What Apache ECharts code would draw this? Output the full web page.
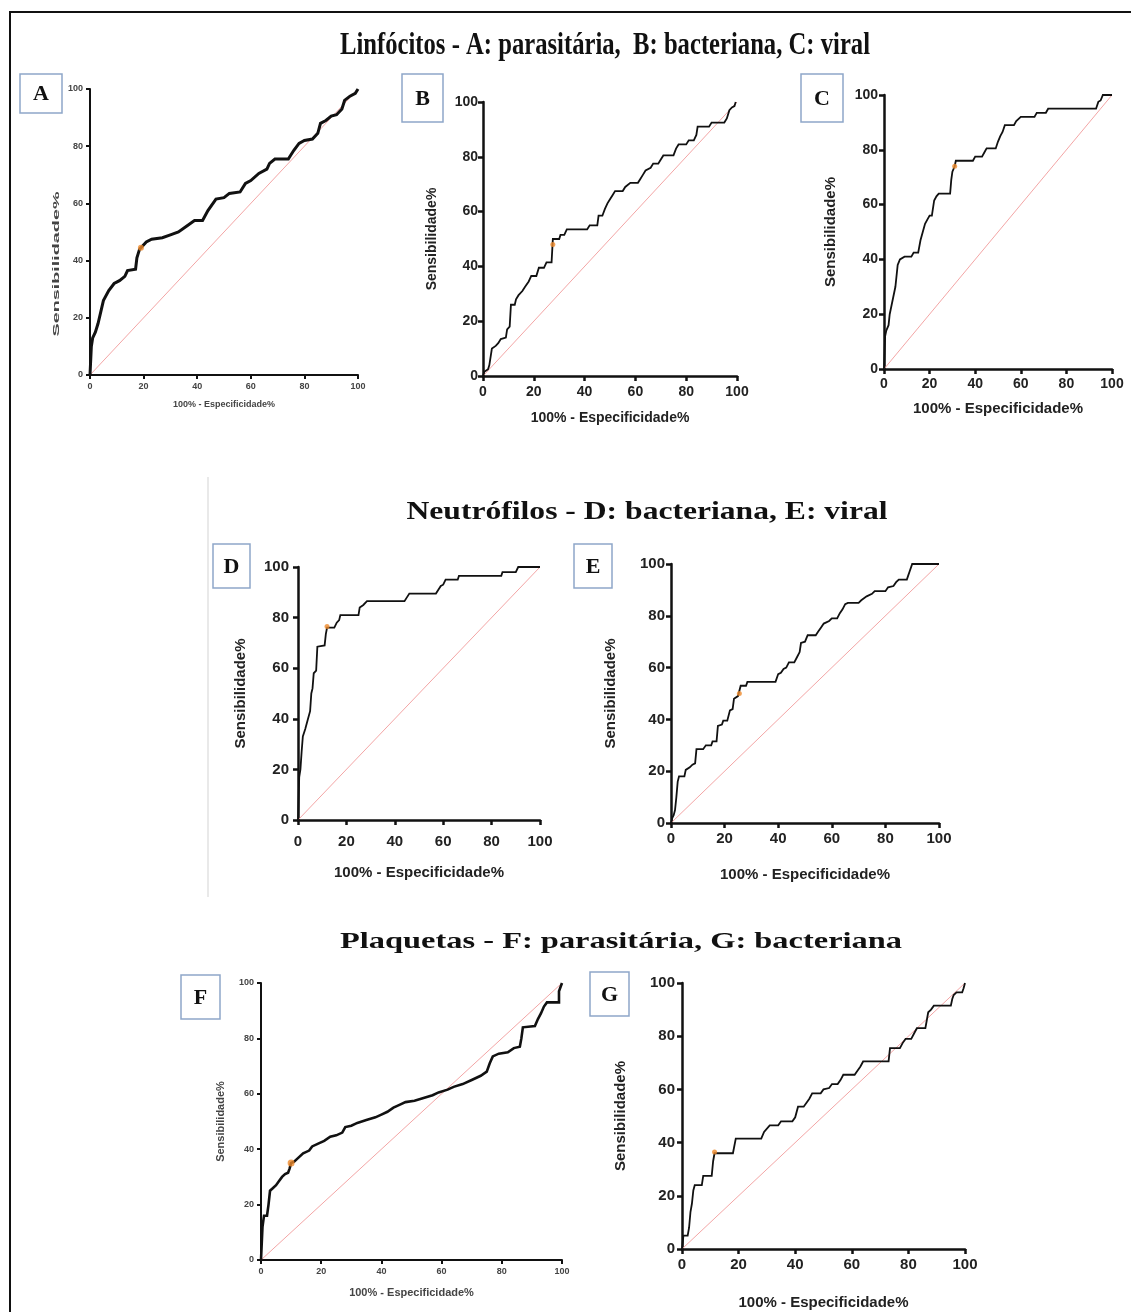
<!DOCTYPE html>
<html><head><meta charset="utf-8">
<script src="https://cdn.jsdelivr.net/npm/echarts@6/dist/echarts.min.js"></script>
<style>html,body{margin:0;padding:0;background:#fff}#chart{width:1131px;height:1312px}</style>
</head><body><div id="chart"></div>
<script>
// ---------- DATA ----------
const tickValues = [0, 20, 40, 60, 80, 100];
const xAxisName = '100% - Especificidade%';
const yAxisName = 'Sensibilidade%';
const chanceLine = [[0, 0], [100, 100]];
const titleLinfocitos = 'Linfócitos - A: parasitária,  B: bacteriana, C: viral';
const titleNeutrofilos = 'Neutrófilos - D: bacteriana, E: viral';
const titlePlaquetas = 'Plaquetas - F: parasitária, G: bacteriana';
const panelLetters = ['A', 'B', 'C', 'D', 'E', 'F', 'G'];

const rocA = [[0,0],[0.5,10],[1,13],[2,15],[3,18],[4,22],[5,26],[7,29.5],[9,32],[11,33],[13,34.5],[14,36.5],[17,37],[17.5,41],[18,41],[18.5,44],[21,46.5],[23,47.5],[27,48],[30,49],[33,50],[36,52],[39,54],[42,54],[44,57.5],[47,61.5],[50,62],[52,63.5],[56,64],[58,67],[60,68],[63,70.5],[66,72],[67,74],[69,75.5],[74,75.5],[76,78.5],[78,81],[80,82],[83,82.5],[85,84.5],[86,88],[88,89],[90,90.5],[92,91],[94,93],[95,96],[97,97.5],[99,98.5],[100,100]];
const cutA = [19, 44.5];

const rocB = [[0,0],[0.5,1.5],[2,2.5],[2.5,4],[3,4],[3.5,10],[5,11],[6,12],[7,13.5],[9,14],[9.5,17],[10.5,18],[11,26],[12.5,26],[13,28],[14,29.5],[15.5,31],[16.5,32.5],[18,34.5],[19,36.5],[21,36.5],[22,39.5],[24,39.5],[25,41.5],[27,41.5],[27.5,50],[30,50],[30.5,51.5],[32,51.5],[33,53.5],[41,53.5],[42,55],[45,55],[45.5,58.5],[47,58.5],[48,61],[49,63],[50,64.5],[51,66],[52,67.5],[55,67.5],[56,69],[58,70.5],[61,70.5],[62,72],[63,73.5],[64,75],[66,76],[67,77.5],[69,77.5],[70,79],[71,80.5],[75,80.5],[76,83],[77,84.5],[80,84.5],[81,86],[83,86],[84,88],[84.5,91],[89,91],[90,92.5],[95,92.5],[96,94],[97,97],[98,98],[99,98.5],[99.5,100]];
const cutB = [27.5, 48];

const rocC = [[0,0],[0.5,12],[1,14],[2,16],[2.5,20],[3,22],[4,26],[5,30],[6,38],[7,40],[9,41],[12,41],[13,42.5],[15,42.5],[16,47],[17,50],[18,53],[19,54.5],[20,56],[21,56],[22,61.5],[23,63],[24,64],[29,64],[29.5,69],[30,72],[31,74],[31.5,76],[39,76],[40,77.5],[43,77.5],[44,79],[45,80.5],[49,80.5],[50,83],[51,85],[52,86.5],[53,89],[57,89],[58,90.5],[60,92],[66,92],[67,93.5],[71,93.5],[72,95],[93,95],[94,97.5],[95,98],[96,100],[100,100]];
const cutC = [31, 74];

const rocD = [[0,0],[0.3,10],[0.5,17],[1,20],[1.5,27],[2,33],[3,36],[4,39.5],[5,43],[5.5,50],[6,52],[6.5,58],[7.5,59],[8,68.5],[11,69],[11.5,73.5],[12,76],[13,76],[15,76],[16,78],[17,79],[17.5,81],[25,81],[25.5,84],[27,85],[28.5,86.5],[44,86.5],[45,88],[46,89.5],[57,89.5],[58,91],[59,92.5],[60,93],[61,95],[66,95],[66.5,96.5],[84,96.5],[84.5,98],[90,98],[91,100],[100,100]];
const cutD = [12, 76.5];

const rocE = [[0,0],[0.5,2],[1,3],[1.5,5],[2,10],[2.5,16],[3,18],[5,18],[5.5,20.5],[7,21.5],[8,22.5],[9,23],[9.5,28.5],[12,28.5],[13,30],[15,30],[15.5,31.5],[17,31.5],[17.5,37.5],[19,38],[19.5,39.5],[21,39.5],[22,43.5],[23,44],[23.5,48],[25,49],[26,53],[28,53],[28.5,54.5],[39,54.5],[40,57.5],[41,58],[42,59.5],[43,60],[44,62],[46,62],[47,64],[48,66],[48.5,69.5],[50,70],[51,72.5],[54,72.5],[55,74],[56,75.5],[57,77],[59,78],[60,79],[62,79],[63,81],[64,82.5],[65,84.5],[66,85],[70,85],[71,86],[73,87.5],[75,88.5],[76,89.5],[80,89.5],[81,91],[83,91.5],[84,93],[85,94],[88,94],[88.5,95.5],[89,97],[90,100],[100,100]];
const cutE = [25.5, 50];

const rocF = [[0,0],[0.5,12],[1,16],[2,16],[2.5,20],[3,25],[4,26],[5,27],[6,28.5],[7,30],[8,31],[9,31.5],[9.5,33],[10,35],[11,35.5],[12,36.5],[14,38.5],[16,39.5],[17,41],[19,42],[21,43],[23,44.5],[25,45],[27,46],[28,48],[30,48.5],[32,49.5],[35,50.5],[38,51.5],[40,52.5],[42,53.5],[44,55],[46,56],[48,57],[51,57.5],[54,58.5],[57,59.5],[59,60.5],[62,61.5],[64,62.5],[67,63.5],[70,65],[73,66.5],[75,68],[76,71],[77,73.5],[79,74.5],[82,75],[84,76.5],[86,77],[86.5,80],[87,84],[91,84.5],[92,87],[93,89],[94,91.5],[95,93],[99,93],[99,97],[100,100]];
const cutF = [10, 35];

const rocG = [[0,0],[0.5,5],[2,5],[2.5,8],[3,14],[3.5,17],[4,22],[4.5,24],[7,24],[7.5,27.5],[10.5,27.5],[11,33],[11.5,36],[18,36],[19,41.5],[28,41.5],[29,44],[31,46.5],[34,46.5],[35,48],[39,48],[40,49.5],[41,53.5],[43,53.5],[44,55],[45,56.5],[46,58.5],[49,58.5],[50,60],[52,60.5],[53,62],[55,62],[56,63.5],[57,65.5],[61,65.5],[62,67],[63,68.5],[64,70.5],[73,70.5],[73.5,75.5],[77,75.5],[78,77.5],[79,79],[81,79],[82,81],[83,83],[86,83],[86.5,86],[87,89],[88,90],[89,91.5],[95,91.5],[95.5,94],[96,95.5],[97,96.5],[99,96.5],[99.5,98],[100,100]];
const cutG = [11.5, 36.5];

const rocData = {A: rocA, B: rocB, C: rocC, D: rocD, E: rocE, F: rocF, G: rocG};
const cutData = {A: cutA, B: cutB, C: cutC, D: cutD, E: cutE, F: cutF, G: cutG};

// ---------- LAYOUT / STYLE ----------
const layout = {
  A: {l:90,  t:89,  w:268, h:286, small:true,  lw:3,   aw:2,   tl:4, lfs:9,  nfs:9,  xlm:7,  ylm:7,  xng:25, yng:0,  cs:6, box:[20,74,42,39]},
  B: {l:483, t:102, w:254, h:274, small:false, lw:1.8, aw:2.5, tl:5, lfs:14, nfs:14, xlm:9,  ylm:5,  xng:35, yng:44, cs:5, box:[402,74,41,48]},
  C: {l:884, t:95,  w:228, h:274, small:false, lw:1.8, aw:2.5, tl:5, lfs:14, nfs:15, xlm:8,  ylm:6,  xng:32, yng:46, cs:5, box:[801,74,42,48]},
  D: {l:298, t:567, w:242, h:253, small:false, lw:1.8, aw:2.5, tl:5, lfs:15, nfs:15, xlm:14, ylm:9,  xng:45, yng:50, cs:5, box:[213,544,37,44]},
  E: {l:671, t:564, w:268, h:259, small:false, lw:1.8, aw:2.5, tl:5, lfs:15, nfs:15, xlm:8,  ylm:6,  xng:44, yng:53, cs:5, box:[574,544,38,44]},
  F: {l:261, t:983, w:301, h:277, small:true,  lw:2.6, aw:2,   tl:4, lfs:9,  nfs:11, xlm:7,  ylm:7,  xng:27, yng:35, cs:7, box:[181,975,39,44]},
  G: {l:682, t:983, w:283, h:266, small:false, lw:1.8, aw:2.5, tl:5, lfs:15, nfs:15, xlm:8,  ylm:7,  xng:46, yng:54, cs:5, box:[590,972,39,44]}
};

const SANS = '"Liberation Sans", Arial, sans-serif';
const SERIF = '"Liberation Serif", "Times New Roman", serif';

const grids = [], xAxes = [], yAxes = [], series = [];
panelLetters.forEach((k, i) => {
  const p = layout[k];
  const tc = p.small ? '#444' : '#222';
  grids.push({left: p.l, top: p.t, width: p.w, height: p.h, containLabel: false});
  const common = {
    gridIndex: i, type: 'value', min: tickValues[0], max: tickValues[tickValues.length - 1],
    interval: tickValues[1] - tickValues[0],
    nameLocation: 'middle',
    nameTextStyle: {fontFamily: SANS, fontWeight: 'bold', fontSize: p.nfs, color: tc},
    axisLine: {show: true, onZero: false, lineStyle: {color: '#111', width: p.aw}},
    axisTick: {show: true, length: p.tl, lineStyle: {color: '#111', width: p.aw}},
    splitLine: {show: false}
  };
  xAxes.push(Object.assign({}, common, {
    name: xAxisName, nameGap: p.xng,
    axisLabel: {margin: p.xlm, fontFamily: SANS, fontWeight: 'bold', fontSize: p.lfs, color: tc}
  }));
  yAxes.push(Object.assign({}, common, {
    name: k === 'A' ? '' : yAxisName, nameGap: p.yng,
    axisLabel: {margin: p.ylm, fontFamily: SANS, fontWeight: 'bold', fontSize: p.lfs, color: tc}
  }));
  series.push({type: 'line', xAxisIndex: i, yAxisIndex: i, data: chanceLine, symbol: 'none', silent: true,
    lineStyle: {color: '#f3a5a5', width: 1}, z: 1});
  series.push({type: 'line', xAxisIndex: i, yAxisIndex: i, data: rocData[k], symbol: 'none', silent: true,
    lineStyle: {color: '#111', width: p.lw, join: 'miter'}, z: 3});
  series.push({type: 'scatter', xAxisIndex: i, yAxisIndex: i, data: [cutData[k]], symbolSize: p.cs, silent: true,
    itemStyle: {color: '#ee8a2c'}, z: 4});
});

// measure helper for scaled text
const mctx = document.createElement('canvas').getContext('2d');
function textWidth(text, font) { mctx.font = font; return mctx.measureText(text).width; }

function scaledText(text, font, cx, cy, targetW, extra) {
  const sx = targetW / textWidth(text, font);
  return Object.assign({
    type: 'text', x: cx, y: cy, scaleX: sx, silent: true,
    style: {text: text, font: font, fill: '#111', align: 'center', verticalAlign: 'middle'}
  }, extra || {});
}

const graphics = [];
// frame
graphics.push({type: 'line', shape: {x1: 9, y1: 12, x2: 1131, y2: 12}, style: {stroke: '#111', lineWidth: 2}, silent: true});
graphics.push({type: 'line', shape: {x1: 10, y1: 11, x2: 10, y2: 1312}, style: {stroke: '#111', lineWidth: 2}, silent: true});
// faint divider
graphics.push({type: 'line', shape: {x1: 208, y1: 477, x2: 208, y2: 897}, style: {stroke: '#e2e2e2', lineWidth: 1.5}, silent: true});
// titles
graphics.push(scaledText(titleLinfocitos, 'bold 31px ' + SERIF, 605, 46, 530));
graphics.push(scaledText(titleNeutrofilos, 'bold 25px ' + SERIF, 647, 513, 481));
graphics.push(scaledText(titlePlaquetas, 'bold 23px ' + SERIF, 621, 942, 562));
// letter boxes
panelLetters.forEach(k => {
  const b = layout[k].box;
  graphics.push({type: 'rect', shape: {x: b[0], y: b[1], width: b[2], height: b[3]}, silent: true,
    style: {fill: '#fff', stroke: '#8ea7c9', lineWidth: 1.5}});
  graphics.push({type: 'text', x: b[0] + b[2] / 2, y: b[1] + b[3] / 2 + 1, silent: true,
    style: {text: k, font: 'bold 22px ' + SERIF, fill: '#111', align: 'center', verticalAlign: 'middle'}});
});
// stretched y-axis name of panel A
graphics.push(scaledText(yAxisName, 'bold 9px ' + SANS, 57, 264, 145, {rotation: Math.PI / 2, style: {text: yAxisName, font: 'bold 9px ' + SANS, fill: '#444', align: 'center', verticalAlign: 'middle'}}));

const chart = echarts.init(document.getElementById('chart'), null, {renderer: 'canvas'});
chart.setOption({
  backgroundColor: '#fff',
  animation: false,
  grid: grids,
  xAxis: xAxes,
  yAxis: yAxes,
  series: series,
  graphic: {elements: graphics}
});
</script></body></html>
